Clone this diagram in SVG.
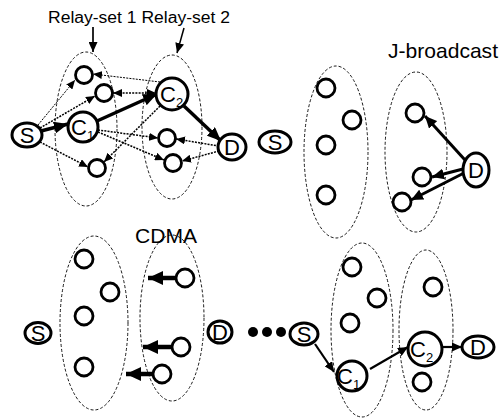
<svg xmlns="http://www.w3.org/2000/svg" width="503" height="418" viewBox="0 0 503 418">
<style>
text{font-family:"Liberation Sans",Arial,sans-serif;fill:#000}
.lbl{font-size:22px;text-anchor:middle}
.cl{font-size:22px}
.nd{fill:#fff;stroke:#000;stroke-width:3}
.rc{fill:#fff;stroke:#000;stroke-width:2.8}
.set{fill:none;stroke:#000;stroke-width:0.9;stroke-dasharray:3 2}
.thk{stroke:#000;stroke-width:3.5;fill:none}
.dot{stroke:#000;stroke-width:1.5;stroke-dasharray:2 1.2;fill:none}
.dotl{stroke:#000;stroke-width:1;stroke-dasharray:2 1.2;fill:none}
</style>
<defs>
<marker id="aT" markerUnits="userSpaceOnUse" markerWidth="14" markerHeight="12" refX="14" refY="6" orient="auto"><path d="M0,0 L14,6 L0,12 z" fill="#000"/></marker>
<marker id="aD" markerUnits="userSpaceOnUse" markerWidth="9" markerHeight="8" refX="9" refY="4" orient="auto"><path d="M0,0 L9,4 L0,8 z" fill="#000"/></marker>
<marker id="aDs" markerUnits="userSpaceOnUse" markerWidth="9" markerHeight="8" refX="0" refY="4" orient="auto"><path d="M9,0 L0,4 L9,8 z" fill="#000"/></marker>
<marker id="aL" markerUnits="userSpaceOnUse" markerWidth="10" markerHeight="9" refX="10" refY="4.5" orient="auto"><path d="M0,0 L10,4.5 L0,9 z" fill="#000"/></marker>
<marker id="aC" markerUnits="userSpaceOnUse" markerWidth="15" markerHeight="14" refX="15" refY="7" orient="auto"><path d="M0,0 L15,7 L0,14 z" fill="#000"/></marker>
<marker id="aB" markerUnits="userSpaceOnUse" markerWidth="12" markerHeight="11" refX="12" refY="5.5" orient="auto"><path d="M0,0 L12,5.5 L0,11 z" fill="#000"/></marker>
</defs>

<!-- titles -->
<text x="48" y="23" font-size="16" textLength="182" lengthAdjust="spacingAndGlyphs">Relay-set  1 Relay-set  2</text>
<text x="388" y="58" font-size="21" textLength="110" lengthAdjust="spacingAndGlyphs">J-broadcast</text>
<text x="135" y="243" font-size="21" textLength="62" lengthAdjust="spacingAndGlyphs">CDMA</text>

<!-- relay-set ellipses -->
<g id="sets">
<ellipse class="set" cx="86" cy="129" rx="31" ry="77"/>
<ellipse class="set" cx="172" cy="127" rx="30" ry="72"/>
<ellipse class="set" cx="336" cy="152" rx="32" ry="86"/>
<ellipse class="set" cx="416" cy="152" rx="31" ry="80"/>
<ellipse class="set" cx="94" cy="323" rx="34" ry="87"/>
<ellipse class="set" cx="172" cy="318" rx="32" ry="83"/>
<ellipse class="set" cx="362" cy="330" rx="31" ry="87"/>
<ellipse class="set" cx="426" cy="330" rx="27" ry="80"/>
</g>

<g id="connectors">
<!-- title pointers -->
<line x1="93" y1="27" x2="93" y2="52" stroke="#000" stroke-width="1.7" marker-end="url(#aL)"/>
<line x1="184" y1="28" x2="177" y2="53" stroke="#000" stroke-width="1.5" marker-end="url(#aL)"/>
<!-- top-left dotted -->
<line class="dotl" x1="38" y1="125" x2="75" y2="80" marker-end="url(#aD)"/>
<line class="dot" x1="40" y1="128" x2="95" y2="96" marker-end="url(#aD)"/>
<line class="dot" x1="40" y1="142" x2="88" y2="167" marker-end="url(#aD)"/>
<line class="dotl" x1="160" y1="82" x2="93" y2="74" marker-end="url(#aD)"/>
<line class="dot" x1="113" y1="93" x2="156" y2="93" marker-start="url(#aDs)" marker-end="url(#aD)" stroke-width="1.8"/>
<line class="dot" x1="160" y1="106" x2="104" y2="162" marker-end="url(#aD)"/>
<line class="dot" x1="98" y1="130" x2="158" y2="138" marker-end="url(#aD)"/>
<line class="dot" x1="98" y1="132" x2="164" y2="160" marker-end="url(#aD)"/>
<line class="dot" x1="219" y1="146" x2="176" y2="139" marker-end="url(#aD)"/>
<line class="dot" x1="219" y1="151" x2="182" y2="161" marker-end="url(#aD)"/>
<!-- top-left thick -->
<line class="thk" x1="41" y1="131" x2="68" y2="124" marker-end="url(#aT)"/>
<line class="thk" x1="97" y1="121" x2="157" y2="94" marker-end="url(#aT)"/>
<line class="thk" x1="184" y1="106" x2="221" y2="141" marker-end="url(#aT)"/>
<!-- J-broadcast -->
<line stroke="#000" stroke-width="3" x1="465" y1="160" x2="425" y2="116" marker-end="url(#aB)"/>
<line stroke="#000" stroke-width="3" x1="463" y1="169" x2="432" y2="177" marker-end="url(#aB)"/>
<line stroke="#000" stroke-width="3" x1="464" y1="173" x2="411" y2="200" marker-end="url(#aB)"/>
<!-- CDMA -->
<line stroke="#000" stroke-width="4.5" x1="176" y1="278" x2="148" y2="278" marker-end="url(#aC)"/>
<line stroke="#000" stroke-width="4.5" x1="172" y1="347" x2="143" y2="347" marker-end="url(#aC)"/>
<line stroke="#000" stroke-width="4.5" x1="153" y1="374" x2="126" y2="374" marker-end="url(#aC)"/>
<!-- bottom-right -->
<line stroke="#000" stroke-width="2.2" x1="315" y1="344" x2="334" y2="372" marker-end="url(#aL)"/>
<line stroke="#000" stroke-width="2.2" x1="370" y1="369" x2="408" y2="347" marker-end="url(#aL)"/>
<line stroke="#000" stroke-width="2.2" x1="442" y1="347" x2="462" y2="347" marker-end="url(#aL)"/>
</g>

<!-- top-left panel nodes -->
<g id="tl-S"><ellipse class="nd" cx="27" cy="135" rx="15" ry="12"/><text class="lbl" x="27" y="143">S</text></g>
<g id="tl-C1"><circle class="nd" cx="83" cy="127" r="15"/><text class="cl" x="71" y="135">C<tspan dy="5" font-size="13">1</tspan></text></g>
<g id="tl-r1"><circle class="rc" cx="84" cy="75" r="8.5"/></g>
<g id="tl-r2"><circle class="rc" cx="104" cy="93" r="8.5"/></g>
<g id="tl-r3"><circle class="rc" cx="97" cy="168" r="8.5"/></g>
<g id="tl-C2"><circle class="nd" cx="172" cy="94" r="16"/><text class="cl" x="160" y="102">C<tspan dy="5" font-size="13">2</tspan></text></g>
<g id="tl-r4"><circle class="rc" cx="167" cy="138" r="8.5"/></g>
<g id="tl-r5"><circle class="rc" cx="173" cy="163" r="8.5"/></g>
<g id="tl-D"><ellipse class="nd" cx="232" cy="147" rx="14" ry="13"/><text class="lbl" x="232" y="155">D</text></g>

<!-- top-right panel nodes -->
<g id="tr-S"><ellipse class="nd" cx="275" cy="142" rx="16" ry="11" stroke-width="2.6"/><text class="lbl" x="275" y="150">S</text></g>
<g id="tr-r1"><circle class="rc" cx="326" cy="88" r="9"/></g>
<g id="tr-r2"><circle class="rc" cx="352" cy="120" r="9"/></g>
<g id="tr-r3"><circle class="rc" cx="326" cy="145" r="9"/></g>
<g id="tr-r4"><circle class="rc" cx="326" cy="195" r="9"/></g>
<g id="tr-r5"><circle class="rc" cx="415" cy="113" r="9"/></g>
<g id="tr-r6"><circle class="rc" cx="422" cy="177" r="9"/></g>
<g id="tr-r7"><circle class="rc" cx="402" cy="202" r="9"/></g>
<g id="tr-D"><ellipse class="nd" cx="476" cy="170" rx="13" ry="17" stroke-width="2.6"/><text class="lbl" x="476" y="178">D</text></g>

<!-- bottom-left panel nodes -->
<g id="bl-S"><ellipse class="nd" cx="38" cy="333" rx="13" ry="10.5" stroke-width="2.6"/><text class="lbl" x="38" y="341">S</text></g>
<g id="bl-r1"><circle class="rc" cx="84" cy="259" r="9"/></g>
<g id="bl-r2"><circle class="rc" cx="110" cy="292" r="9"/></g>
<g id="bl-r3"><circle class="rc" cx="84" cy="316" r="9"/></g>
<g id="bl-r4"><circle class="rc" cx="84" cy="367" r="9"/></g>
<g id="bl-r5"><circle class="rc" cx="185" cy="278" r="9"/></g>
<g id="bl-r6"><circle class="rc" cx="181" cy="347" r="9"/></g>
<g id="bl-r7"><circle class="rc" cx="162" cy="374" r="9"/></g>
<g id="bl-D"><ellipse class="nd" cx="220" cy="332" rx="12" ry="11" stroke-width="2.6"/><text class="lbl" x="220" y="340">D</text></g>
<g id="dots"><circle cx="253" cy="332" r="5"/><circle cx="267" cy="332" r="5"/><circle cx="281" cy="332" r="5"/></g>

<!-- bottom-right panel nodes -->
<g id="br-S"><ellipse class="nd" cx="304" cy="334" rx="14" ry="11" stroke-width="2.6"/><text class="lbl" x="304" y="342">S</text></g>
<g id="br-r1"><circle class="rc" cx="352" cy="267" r="9"/></g>
<g id="br-r2"><circle class="rc" cx="377" cy="298" r="9"/></g>
<g id="br-r3"><circle class="rc" cx="350" cy="323" r="9"/></g>
<g id="br-C1"><circle class="nd" cx="352" cy="376" r="15"/><text class="cl" x="337" y="384">C<tspan dy="5" font-size="13">1</tspan></text></g>
<g id="br-r4"><circle class="rc" cx="433" cy="287" r="9"/></g>
<g id="br-C2"><circle class="nd" cx="425" cy="349" r="17"/><text class="cl" x="410" y="357">C<tspan dy="5" font-size="13">2</tspan></text></g>
<g id="br-r5"><circle class="rc" cx="422" cy="382" r="9"/></g>
<g id="br-D"><ellipse class="nd" cx="478" cy="347" rx="16" ry="11" stroke-width="2.6"/><text class="lbl" x="478" y="355">D</text></g>
</svg>
